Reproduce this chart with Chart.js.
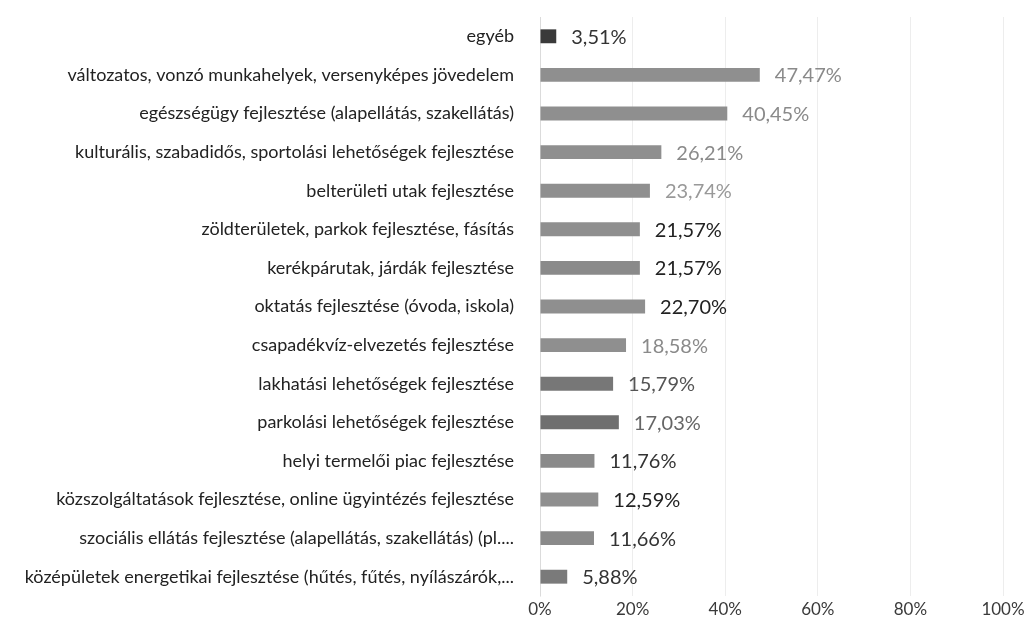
<!DOCTYPE html>
<html>
<head>
<meta charset="utf-8">
<script src="https://cdn.jsdelivr.net/npm/chart.js@4/dist/chart.umd.min.js"></script>
<style>
  html, body { margin: 0; padding: 0; background: #fff; }
  #wrap { width: 1024px; height: 638px; }
</style>
</head>
<body>
<div id="wrap"><canvas id="c" width="1024" height="638"></canvas></div>
<script>
// Fejlesztési igények (válaszok aránya, %)
const categories = [
  'egyéb',
  'változatos, vonzó munkahelyek, versenyképes jövedelem',
  'egészségügy fejlesztése (alapellátás, szakellátás)',
  'kulturális, szabadidős, sportolási lehetőségek fejlesztése',
  'belterületi utak fejlesztése',
  'zöldterületek, parkok fejlesztése, fásítás',
  'kerékpárutak, járdák fejlesztése',
  'oktatás fejlesztése (óvoda, iskola)',
  'csapadékvíz-elvezetés fejlesztése',
  'lakhatási lehetőségek fejlesztése',
  'parkolási lehetőségek fejlesztése',
  'helyi termelői piac fejlesztése',
  'közszolgáltatások fejlesztése, online ügyintézés fejlesztése',
  'szociális ellátás fejlesztése (alapellátás, szakellátás) (pl....',
  'középületek energetikai fejlesztése (hűtés, fűtés, nyílászárók,...'
];
const shares = [3.51, 47.47, 40.45, 26.21, 23.74, 21.57, 21.57, 22.70, 18.58, 15.79, 17.03, 11.76, 12.59, 11.66, 5.88];
const xTicks = [0, 20, 40, 60, 80, 100];

// Bar fills and value-label colours, one per row
const barColors = ['#3a3a3a', '#8f8f8f', '#8f8f8f', '#8f8f8f', '#8f8f8f', '#8f8f8f', '#8a8a8a', '#8f8f8f',
                   '#8f8f8f', '#777777', '#6f6f6f', '#8a8a8a', '#8f8f8f', '#8a8a8a', '#7a7a7a'];
const valueColors = ['#333', '#8a8a8a', '#8a8a8a', '#8a8a8a', '#999', '#222', '#222', '#222',
                     '#8a8a8a', '#555', '#666', '#333', '#222', '#333', '#333'];

const fmt = v => v.toFixed(2).replace('.', ',') + '%';

const valueLabels = {
  id: 'valueLabels',
  afterDatasetsDraw(chart) {
    const ctx = chart.ctx;
    const meta = chart.getDatasetMeta(0);
    ctx.save();
    ctx.font = '20px Lato, "Open Sans", sans-serif';
    ctx.textAlign = 'left';
    ctx.textBaseline = 'middle';
    meta.data.forEach((bar, i) => {
      ctx.fillStyle = valueColors[i];
      ctx.fillText(fmt(shares[i]), bar.x + 15, bar.y + 1);
    });
    ctx.restore();
  }
};

new Chart(document.getElementById('c'), {
  type: 'bar',
  data: {
    labels: categories,
    datasets: [{
      data: shares,
      backgroundColor: barColors,
      borderWidth: 0,
      categoryPercentage: 1,
      barPercentage: 0.36
    }]
  },
  options: {
    indexAxis: 'y',
    responsive: false,
    animation: false,
    devicePixelRatio: 1,
    layout: { padding: { top: 17, right: 21, left: 0, bottom: 0 } },
    plugins: { legend: { display: false }, tooltip: { enabled: false } },
    scales: {
      x: {
        min: 0,
        max: 100,
        afterBuildTicks(scale) { scale.ticks = xTicks.map(v => ({ value: v })); },
        afterFit(scale) {
          scale.height = 42;
          scale.paddingLeft = 0;
          scale.paddingRight = 0;
        },
        grid: { color: 'rgba(0,0,0,0.07)', drawTicks: false },
        border: { display: false },
        ticks: {
          padding: 3,
          color: '#3a3a3a',
          font: { family: 'Lato, "Open Sans", sans-serif', size: 17 },
          callback: v => v + '%',
          maxRotation: 0
        }
      },
      y: {
        afterFit(scale) {
          scale.width = 540;
          scale.paddingTop = 0;
          scale.paddingBottom = 0;
        },
        grid: { display: false, drawTicks: false },
        border: { color: 'rgba(0,0,0,0.08)' },
        ticks: {
          padding: 26,
          color: '#222',
          autoSkip: false,
          font: { family: 'Lato, "Open Sans", sans-serif', size: 18 }
        }
      }
    }
  },
  plugins: [valueLabels]
});
</script>
</body>
</html>
